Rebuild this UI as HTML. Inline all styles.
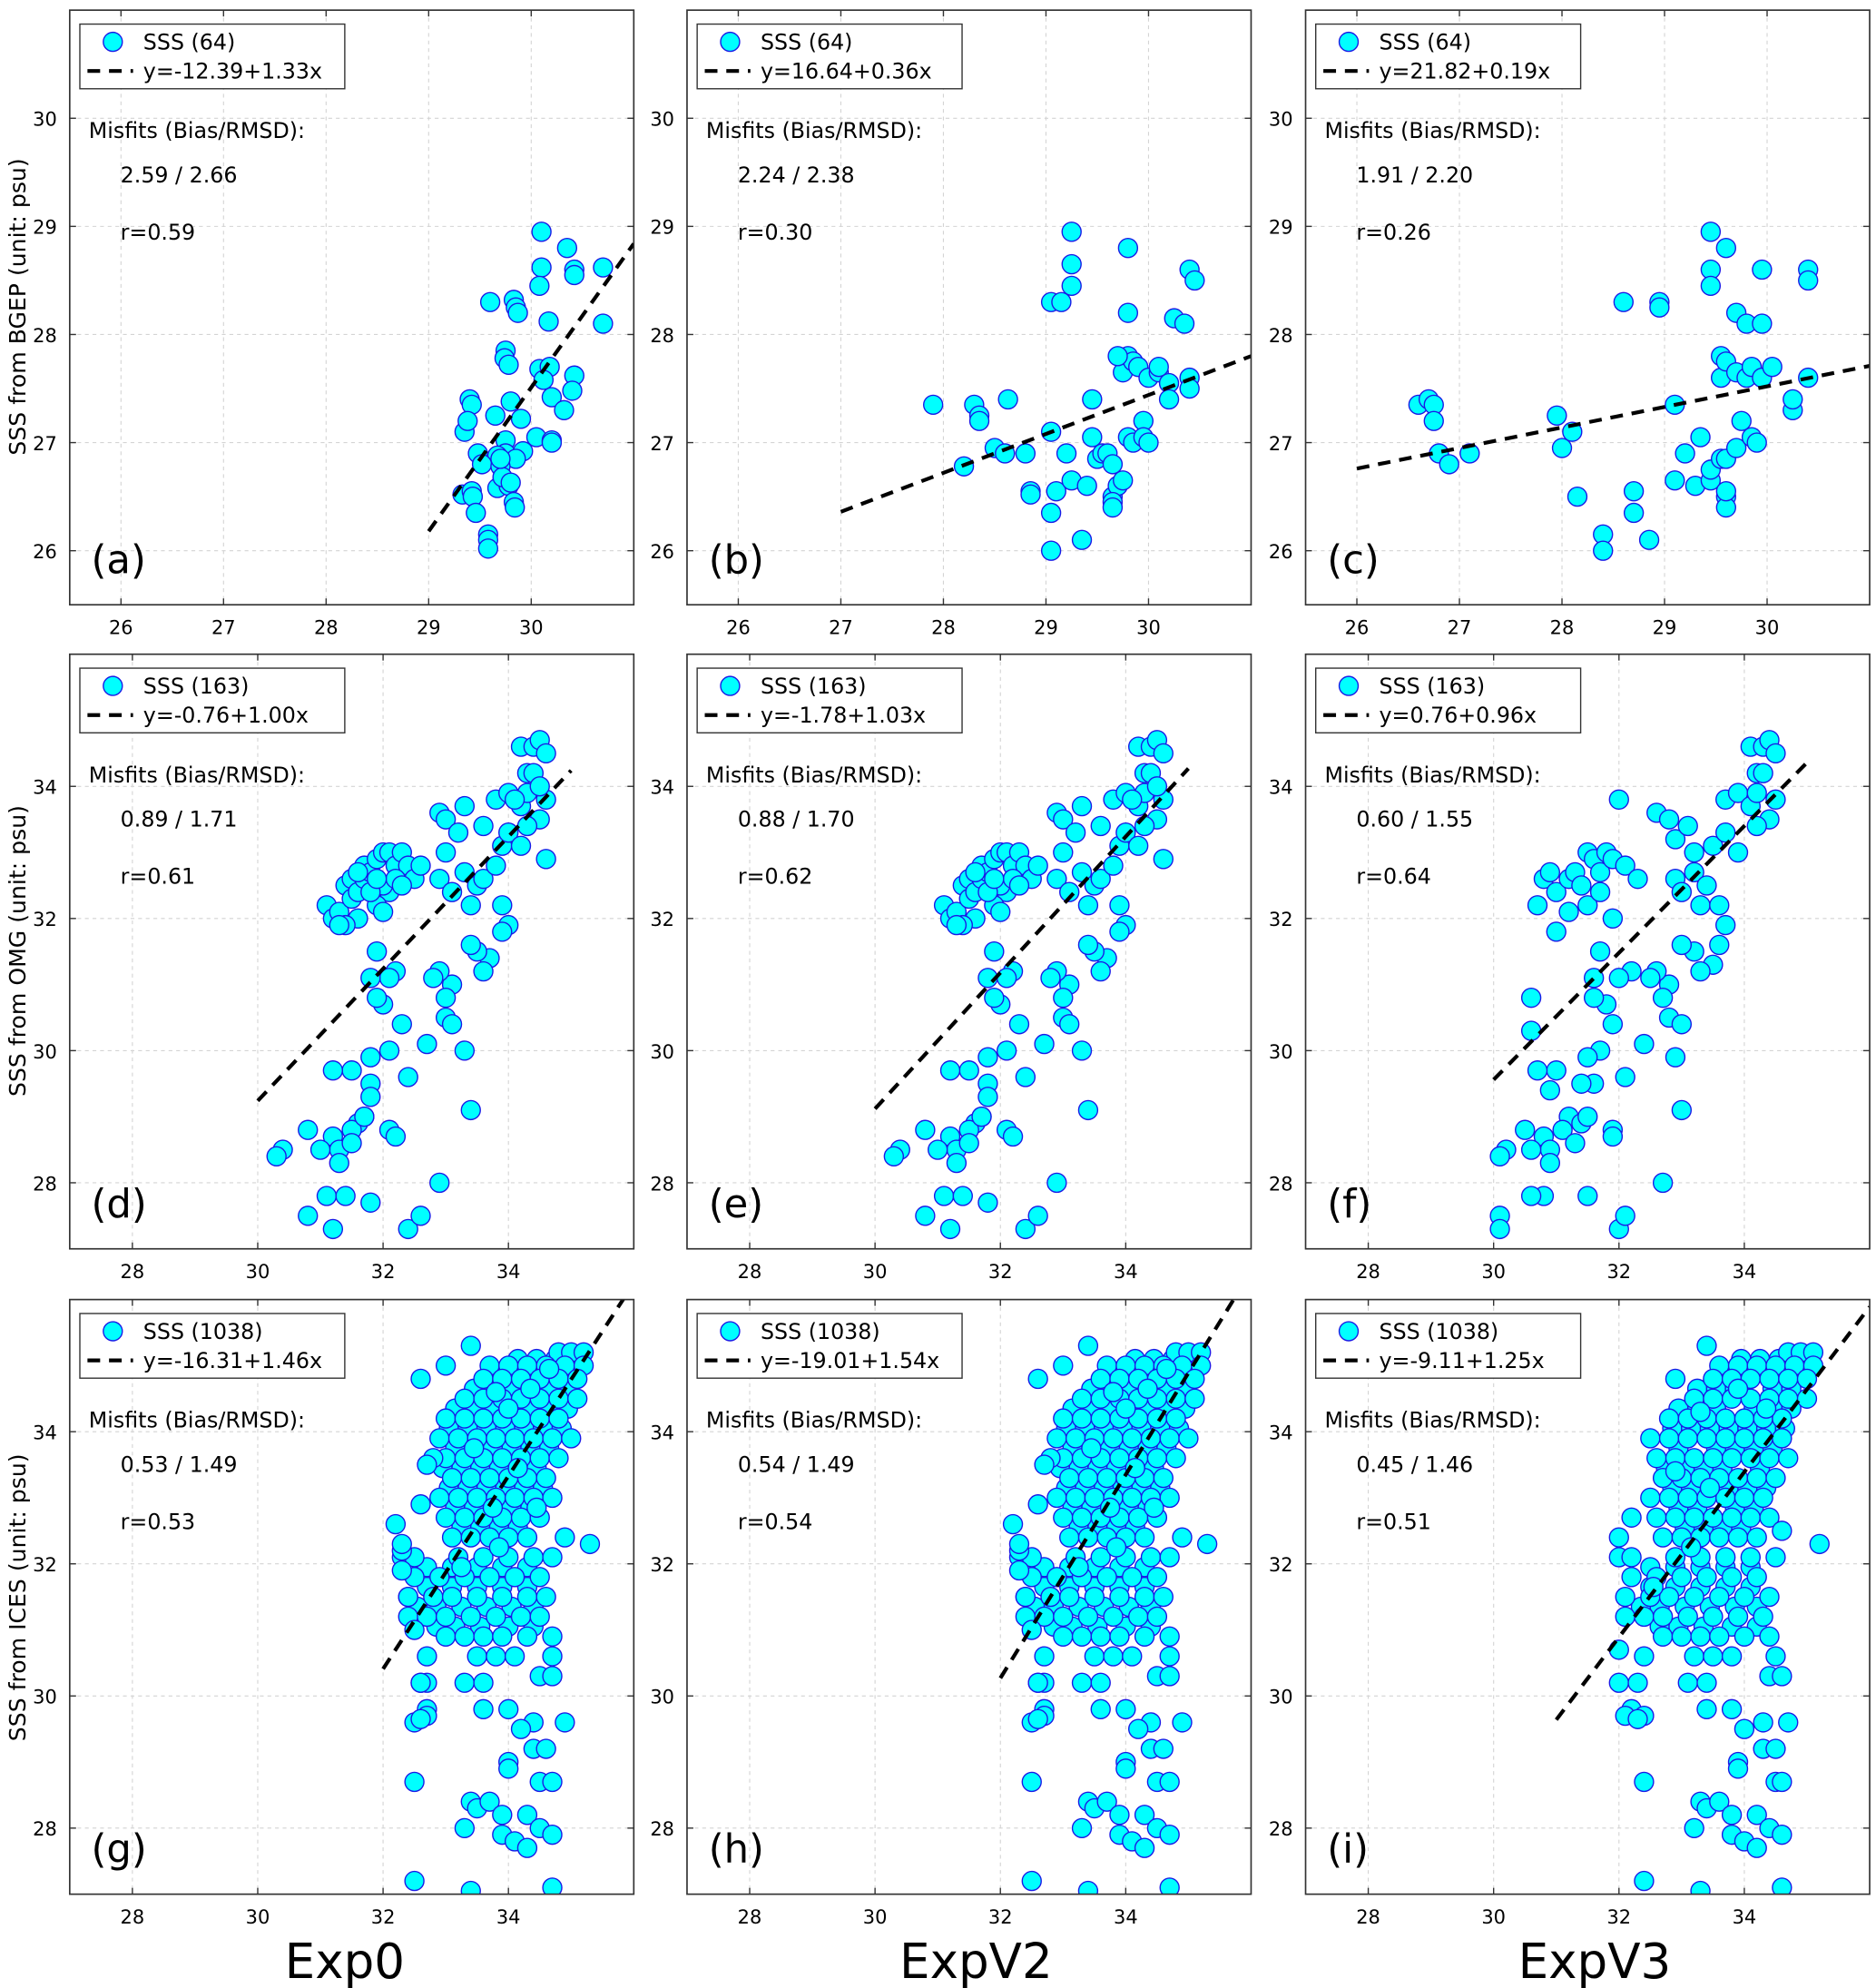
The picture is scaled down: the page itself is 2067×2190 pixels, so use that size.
<!DOCTYPE html>
<html><head><meta charset="utf-8"><style>
html,body{margin:0;padding:0;background:#fff;}
svg{display:block;font-family:"DejaVu Sans","Liberation Sans",sans-serif;}
</style></head><body>
<svg id="fig" width="2067" height="2190" viewBox="0 0 1480 1568" preserveAspectRatio="none" xmlns="http://www.w3.org/2000/svg">
<rect x="0" y="0" width="1480" height="1568" fill="#fff"/>
<text x="20" y="242" transform="rotate(-90 20 242)" text-anchor="middle" font-size="18">SSS from BGEP (unit: psu)</text>
<text x="20" y="750" transform="rotate(-90 20 750)" text-anchor="middle" font-size="18">SSS from OMG (unit: psu)</text>
<text x="20" y="1260" transform="rotate(-90 20 1260)" text-anchor="middle" font-size="18">SSS from ICES (unit: psu)</text>
<text x="272" y="1560" text-anchor="middle" font-size="38">Exp0</text>
<text x="770" y="1560" text-anchor="middle" font-size="38">ExpV2</text>
<text x="1258" y="1560" text-anchor="middle" font-size="38">ExpV3</text>
</svg>
<script>
// ---- data ----
const row1Range = [25.5, 31];
const row23Range = [27, 36];
const row1Ticks = [26, 27, 28, 29, 30];
const row23Ticks = [28, 30, 32, 34];

const ptsA = [[30.1,28.95],[30.35,28.8],[30.42,28.6],[30.42,28.55],[30.1,28.62],[30.7,28.62],[29.6,28.3],[29.83,28.32],[29.85,28.25],[29.87,28.2],[30.08,28.45],[30.17,28.12],[30.7,28.1],[29.75,27.85],[29.74,27.78],[29.78,27.72],[30.08,27.68],[30.18,27.7],[30.42,27.62],[30.12,27.58],[29.8,27.38],[30.2,27.42],[30.4,27.48],[30.32,27.3],[29.4,27.4],[29.42,27.35],[29.65,27.25],[29.35,27.1],[29.38,27.2],[29.9,27.22],[30.05,27.05],[30.2,27.02],[30.2,27.0],[29.75,27.02],[29.75,26.9],[29.48,26.9],[29.92,26.92],[29.85,26.85],[29.67,26.88],[29.52,26.8],[29.7,26.78],[29.72,26.65],[29.67,26.58],[29.78,26.6],[29.72,26.68],[29.33,26.52],[29.42,26.55],[29.43,26.5],[29.83,26.45],[29.84,26.4],[29.46,26.35],[29.58,26.15],[29.58,26.1],[29.58,26.02],[29.7,26.85],[29.8,26.63]];
const ptsB = [[27.9,27.35],[28.3,27.35],[28.35,27.25],[28.63,27.4],[28.35,27.2],[28.2,26.78],[28.5,26.95],[28.6,26.9],[28.8,26.9],[28.85,26.55],[28.85,26.52],[29.05,26.35],[29.05,26.0],[29.1,26.55],[29.25,26.65],[29.35,26.1],[29.2,26.9],[29.05,27.1],[29.4,26.6],[29.5,26.85],[29.55,26.9],[29.45,27.05],[29.45,27.4],[29.6,26.9],[29.65,26.8],[29.65,26.5],[29.7,26.6],[29.65,26.45],[29.65,26.4],[29.75,26.65],[29.8,27.05],[29.85,27.0],[29.95,27.2],[29.95,27.05],[30.0,27.0],[29.75,27.65],[29.8,27.8],[29.85,27.75],[29.9,27.7],[30.0,27.6],[30.1,27.65],[30.1,27.7],[30.2,27.55],[30.2,27.4],[30.25,28.15],[30.35,28.1],[30.4,27.6],[30.4,27.5],[30.4,28.6],[30.45,28.5],[29.05,28.3],[29.15,28.3],[29.25,28.45],[29.25,28.65],[29.25,28.95],[29.8,28.8],[29.8,28.2],[29.7,27.8]];
const ptsC = [[26.6,27.35],[26.7,27.4],[26.75,27.35],[26.75,27.2],[26.8,26.9],[26.9,26.8],[27.1,26.9],[27.95,27.25],[28.0,26.95],[28.1,27.1],[28.15,26.5],[28.4,26.15],[28.4,26.0],[28.7,26.55],[28.7,26.35],[28.85,26.1],[28.6,28.3],[28.95,28.3],[28.95,28.25],[29.1,27.35],[29.1,26.65],[29.2,26.9],[29.35,27.05],[29.3,26.6],[29.45,26.65],[29.45,26.75],[29.55,26.85],[29.6,26.85],[29.6,26.5],[29.6,26.4],[29.6,26.55],[29.55,27.6],[29.55,27.8],[29.6,27.75],[29.7,27.65],[29.7,26.95],[29.75,27.2],[29.8,27.6],[29.85,27.05],[29.85,27.7],[29.9,27.0],[29.95,27.6],[30.05,27.7],[30.25,27.3],[30.25,27.4],[30.4,27.6],[30.4,28.6],[30.4,28.5],[29.45,28.95],[29.45,28.6],[29.45,28.45],[29.6,28.8],[29.7,28.2],[29.8,28.1],[29.95,28.6],[29.95,28.1]];
const ptsD = [[31.1,32.2],[31.2,32.0],[31.3,32.1],[31.4,32.5],[31.5,32.6],[31.5,32.3],[31.6,32.4],[31.7,32.6],[31.7,32.8],[31.8,32.7],[31.9,32.9],[32.0,33.0],[32.1,33.0],[32.2,32.8],[32.3,33.0],[32.4,32.8],[32.5,32.6],[32.1,32.4],[31.9,32.2],[31.6,32.0],[31.4,31.9],[32.0,32.5],[32.2,32.6],[31.8,32.4],[31.6,32.7],[32.3,32.5],[32.6,32.8],[31.3,31.9],[32.0,32.1],[31.9,32.6],[32.9,33.6],[33.0,33.5],[33.3,33.7],[33.2,33.3],[33.0,33.0],[32.9,32.6],[33.1,32.4],[33.3,32.7],[33.5,32.5],[33.6,32.6],[33.4,32.2],[33.8,32.8],[33.9,33.1],[34.0,33.3],[33.8,33.8],[34.0,33.9],[34.2,33.7],[34.3,34.2],[34.2,34.6],[34.4,34.6],[34.5,34.7],[34.6,34.5],[34.4,34.2],[34.3,33.9],[34.5,33.5],[34.6,33.8],[34.3,33.4],[34.2,33.1],[33.9,32.2],[34.0,31.9],[33.9,31.8],[33.7,31.4],[33.6,31.2],[33.5,31.5],[33.4,31.6],[33.1,31.0],[33.0,30.8],[32.9,31.2],[32.8,31.1],[33.0,30.5],[33.1,30.4],[33.3,30.0],[33.4,29.1],[32.7,30.1],[32.4,29.6],[34.6,32.9],[34.5,34.0],[34.1,33.8],[33.6,33.4],[32.2,31.2],[32.1,31.1],[32.0,30.7],[31.9,30.8],[31.8,31.1],[31.9,31.5],[32.3,30.4],[32.1,30.0],[31.8,29.9],[31.8,29.5],[31.8,29.3],[31.7,29.0],[31.5,29.7],[31.2,29.7],[31.6,28.9],[31.5,28.8],[31.2,28.7],[31.3,28.5],[31.0,28.5],[30.8,28.8],[30.4,28.5],[30.3,28.4],[31.3,28.3],[31.5,28.6],[32.1,28.8],[31.1,27.8],[30.8,27.5],[31.2,27.3],[31.4,27.8],[31.8,27.7],[32.4,27.3],[32.6,27.5],[32.9,28.0],[32.2,28.7],[31.7,29.0]];
const ptsF = [[30.7,32.2],[30.8,32.6],[30.9,32.7],[31.0,32.4],[31.2,32.6],[31.3,32.7],[31.4,32.5],[31.5,33.0],[31.6,32.9],[31.7,32.7],[31.8,33.0],[31.9,32.9],[32.1,32.8],[31.0,31.8],[31.2,32.1],[31.5,32.2],[31.7,32.4],[31.9,32.0],[32.0,33.8],[32.3,32.6],[32.6,33.6],[32.8,33.5],[32.9,33.2],[33.1,33.4],[33.2,33.0],[32.9,32.6],[33.0,32.4],[33.2,32.7],[33.4,32.5],[33.3,32.2],[33.5,33.1],[33.7,33.3],[33.7,33.8],[33.9,33.9],[34.1,33.7],[34.2,34.2],[34.1,34.6],[34.3,34.6],[34.4,34.7],[34.5,34.5],[34.3,34.2],[34.2,33.9],[34.4,33.5],[34.5,33.8],[34.2,33.4],[33.9,33.0],[33.6,32.2],[33.7,31.9],[33.6,31.6],[33.5,31.3],[33.3,31.2],[33.2,31.5],[33.0,31.6],[32.8,31.0],[32.7,30.8],[32.6,31.2],[32.5,31.1],[32.8,30.5],[33.0,30.4],[32.9,29.9],[33.0,29.1],[32.4,30.1],[32.1,29.6],[32.2,31.2],[32.0,31.1],[31.8,30.7],[31.6,30.8],[31.6,31.1],[31.7,31.5],[31.9,30.4],[31.7,30.0],[31.5,29.9],[31.6,29.5],[31.4,29.5],[31.2,29.0],[31.0,29.7],[30.7,29.7],[31.4,28.9],[31.1,28.8],[30.8,28.7],[30.9,28.5],[30.6,28.5],[30.5,28.8],[30.2,28.5],[30.1,28.4],[30.9,28.3],[31.3,28.6],[31.9,28.8],[30.8,27.8],[30.6,27.8],[30.1,27.5],[30.1,27.3],[31.5,27.8],[32.0,27.3],[32.1,27.5],[32.7,28.0],[31.9,28.7],[31.5,29.0],[30.6,30.8],[30.6,30.3],[30.9,29.4]];
const ptsG = [[34.8,35.2],[35.0,35.2],[35.2,35.2],[33.7,35.0],[34.0,35.0],[34.3,35.0],[34.6,35.0],[34.9,35.0],[35.2,35.0],[33.6,34.8],[33.9,34.8],[34.2,34.8],[34.5,34.8],[34.8,34.8],[35.1,34.8],[33.3,34.5],[33.6,34.5],[33.9,34.5],[34.2,34.5],[34.5,34.5],[34.8,34.5],[35.1,34.5],[33.0,34.2],[33.3,34.2],[33.6,34.2],[33.9,34.2],[34.2,34.2],[34.5,34.2],[34.8,34.2],[32.9,33.9],[33.2,33.9],[33.5,33.9],[33.8,33.9],[34.1,33.9],[34.4,33.9],[34.7,33.9],[35.0,33.9],[33.0,33.6],[33.3,33.6],[33.6,33.6],[33.9,33.6],[34.2,33.6],[34.5,33.6],[34.8,33.6],[33.1,33.3],[33.4,33.3],[33.7,33.3],[34.0,33.3],[34.3,33.3],[34.6,33.3],[32.9,33.0],[33.2,33.0],[33.5,33.0],[33.8,33.0],[34.1,33.0],[34.4,33.0],[34.7,33.0],[33.0,32.7],[33.3,32.7],[33.6,32.7],[33.9,32.7],[34.2,32.7],[34.5,32.7],[33.1,32.4],[33.4,32.4],[33.7,32.4],[34.0,32.4],[34.3,32.4],[34.9,32.4],[35.3,32.3],[32.6,34.8],[33.4,35.3],[33.0,35.0],[32.8,33.6],[32.7,33.5],[32.3,32.1],[32.5,32.1],[33.2,32.1],[33.6,32.1],[34.0,32.1],[34.4,32.1],[34.7,32.1],[32.5,31.8],[32.9,31.8],[33.3,31.8],[33.7,31.8],[34.1,31.8],[34.5,31.8],[32.4,31.5],[32.8,31.5],[33.1,31.5],[33.5,31.5],[33.9,31.5],[34.3,31.5],[34.6,31.5],[32.4,31.2],[32.7,31.2],[33.0,31.2],[33.4,31.2],[33.8,31.2],[34.2,31.2],[34.5,31.2],[33.0,30.9],[33.3,30.9],[33.6,30.9],[33.9,30.9],[34.3,30.9],[34.7,30.9],[32.7,30.6],[33.5,30.6],[33.8,30.6],[34.1,30.6],[34.7,30.6],[32.6,30.2],[32.7,30.2],[33.3,30.2],[33.6,30.2],[34.5,30.3],[34.7,30.3],[32.7,29.8],[33.6,29.8],[34.0,29.8],[32.5,29.6],[34.4,29.6],[34.9,29.6],[32.7,29.7],[32.6,29.65],[34.2,29.5],[34.4,29.2],[34.6,29.2],[34.0,29.0],[34.0,28.9],[34.5,28.7],[34.7,28.7],[32.5,28.7],[33.4,28.4],[33.5,28.3],[33.7,28.4],[33.9,28.2],[34.3,28.2],[34.5,28.0],[33.3,28.0],[33.9,27.9],[34.1,27.8],[34.3,27.7],[34.7,27.9],[32.5,27.2],[33.4,27.05],[34.7,27.1],[32.3,32.2],[32.3,31.9],[32.4,31.5],[32.5,31.0],[32.6,30.2],[32.2,32.6],[32.3,32.3],[32.6,32.9],[33.8,34.6],[34.0,34.35],[34.35,34.65],[34.65,34.95],[33.45,33.75],[34.15,33.45],[33.75,32.85],[33.25,31.95],[33.85,32.25],[34.45,32.85]];
const ptsGExtra = [[34.15,35.1],[34.45,35.1],[34.75,35.1],[35.05,35.1],[33.45,34.65],[33.75,34.65],[34.05,34.65],[34.65,34.65],[34.95,34.65],[33.15,34.35],[33.45,34.35],[33.75,34.35],[34.35,34.35],[34.65,34.35],[34.95,34.35],[33.05,34.05],[33.35,34.05],[33.65,34.05],[33.95,34.05],[34.25,34.05],[34.55,34.05],[34.85,34.05],[33.15,33.75],[33.75,33.75],[34.05,33.75],[34.35,33.75],[34.65,33.75],[32.95,33.45],[33.25,33.45],[33.55,33.45],[33.85,33.45],[34.45,33.45],[33.05,33.15],[33.35,33.15],[33.65,33.15],[33.95,33.15],[34.25,33.15],[34.55,33.15],[33.15,32.85],[33.45,32.85],[34.05,32.85],[34.35,32.85],[33.25,32.55],[33.55,32.55],[33.85,32.55],[34.15,32.55],[32.7,31.95],[33.1,31.95],[33.5,31.95],[33.9,31.95],[34.3,31.95],[32.7,31.65],[33.1,31.65],[33.5,31.65],[33.9,31.65],[34.3,31.65],[32.55,31.35],[32.85,31.35],[33.25,31.35],[33.65,31.35],[34.05,31.35],[34.4,31.35],[32.85,31.05],[33.15,31.05],[33.55,31.05],[34.0,31.05],[34.4,31.05]];
const ptsI = [[34.7,35.2],[34.9,35.2],[35.1,35.2],[33.4,35.3],[33.6,35.0],[33.9,35.0],[34.2,35.0],[34.5,35.0],[34.8,35.0],[35.1,35.0],[32.9,34.8],[33.5,34.8],[33.8,34.8],[34.1,34.8],[34.4,34.8],[34.7,34.8],[35.0,34.8],[33.2,34.5],[33.5,34.5],[33.8,34.5],[34.1,34.5],[34.4,34.5],[34.7,34.5],[35.0,34.5],[32.8,34.2],[33.1,34.2],[33.4,34.2],[33.7,34.2],[34.0,34.2],[34.3,34.2],[34.6,34.2],[32.5,33.9],[32.8,33.9],[33.1,33.9],[33.4,33.9],[33.7,33.9],[34.0,33.9],[34.3,33.9],[34.6,33.9],[32.6,33.6],[32.9,33.6],[33.2,33.6],[33.5,33.6],[33.8,33.6],[34.1,33.6],[34.4,33.6],[34.7,33.6],[32.7,33.3],[33.0,33.3],[33.3,33.3],[33.6,33.3],[33.9,33.3],[34.2,33.3],[34.5,33.3],[32.5,33.0],[32.8,33.0],[33.1,33.0],[33.4,33.0],[33.7,33.0],[34.0,33.0],[34.3,33.0],[32.6,32.7],[32.9,32.7],[33.2,32.7],[33.5,32.7],[33.8,32.7],[34.1,32.7],[34.4,32.7],[32.7,32.4],[33.0,32.4],[33.3,32.4],[33.6,32.4],[33.9,32.4],[34.2,32.4],[34.6,32.5],[35.2,32.3],[32.0,32.1],[32.2,32.1],[32.9,32.1],[33.3,32.1],[33.7,32.1],[34.1,32.1],[34.5,32.1],[32.2,31.8],[32.6,31.8],[33.0,31.8],[33.4,31.8],[33.8,31.8],[34.2,31.8],[32.1,31.5],[32.5,31.5],[32.8,31.5],[33.2,31.5],[33.6,31.5],[34.0,31.5],[34.4,31.5],[32.1,31.2],[32.4,31.2],[32.7,31.2],[33.1,31.2],[33.5,31.2],[33.9,31.2],[34.3,31.2],[32.0,30.7],[32.7,30.9],[33.0,30.9],[33.3,30.9],[33.6,30.9],[34.0,30.9],[34.4,30.9],[32.4,30.6],[33.2,30.6],[33.5,30.6],[33.8,30.6],[34.5,30.6],[32.0,30.2],[32.3,30.2],[33.1,30.2],[33.4,30.2],[34.4,30.3],[34.6,30.3],[32.2,29.8],[33.4,29.8],[33.8,29.8],[32.1,29.7],[34.3,29.6],[34.7,29.6],[32.4,29.7],[32.3,29.65],[34.0,29.5],[34.3,29.2],[34.5,29.2],[33.9,29.0],[33.9,28.9],[34.5,28.7],[34.6,28.7],[32.4,28.7],[33.3,28.4],[33.4,28.3],[33.6,28.4],[33.8,28.2],[34.2,28.2],[34.4,28.0],[33.2,28.0],[33.8,27.9],[34.0,27.8],[34.2,27.7],[34.6,27.9],[32.4,27.2],[33.3,27.05],[34.6,27.1],[32.0,32.4],[32.2,32.7],[32.9,33.4],[33.3,34.3],[33.9,34.65],[34.35,34.35],[33.45,33.15],[33.15,32.25],[32.55,31.65]];
const ptsIExtra = [[33.95,35.1],[34.25,35.1],[34.55,35.1],[34.85,35.1],[33.25,34.65],[33.55,34.65],[33.85,34.65],[34.45,34.65],[34.75,34.65],[32.95,34.35],[33.25,34.35],[33.55,34.35],[34.15,34.35],[34.45,34.35],[34.75,34.35],[32.85,34.05],[33.15,34.05],[33.45,34.05],[33.75,34.05],[34.05,34.05],[34.35,34.05],[34.65,34.05],[32.95,33.75],[33.55,33.75],[33.85,33.75],[34.15,33.75],[34.45,33.75],[32.75,33.45],[33.05,33.45],[33.35,33.45],[33.65,33.45],[34.25,33.45],[32.85,33.15],[33.15,33.15],[33.45,33.15],[33.75,33.15],[34.05,33.15],[34.35,33.15],[32.95,32.85],[33.25,32.85],[33.85,32.85],[34.15,32.85],[33.05,32.55],[33.35,32.55],[33.65,32.55],[33.95,32.55],[32.5,31.95],[32.9,31.95],[33.3,31.95],[33.7,31.95],[34.1,31.95],[32.5,31.65],[32.9,31.65],[33.3,31.65],[33.7,31.65],[34.1,31.65],[32.35,31.35],[32.65,31.35],[33.05,31.35],[33.45,31.35],[33.85,31.35],[34.2,31.35],[32.65,31.05],[32.95,31.05],[33.35,31.05],[33.8,31.05],[34.2,31.05]];

// fit lines: intercepts, slopes, x-range
const fitIntercepts = [-12.39, 16.64, 21.82, -0.76, -1.78, 0.76, -16.31, -19.01, -9.11];
const fitSlopes = [1.33, 0.36, 0.19, 1.00, 1.03, 0.96, 1.46, 1.54, 1.25];
const fitStart = [29, 27, 26, 30, 30, 30, 32, 32, 31];
const fitEnd = [31, 31, 31, 35, 35, 35, 36, 36, 36];
const counts = ["64","64","64","163","163","163","1038","1038","1038"];
const biasRmsd = ["2.59 / 2.66","2.24 / 2.38","1.91 / 2.20","0.89 / 1.71","0.88 / 1.70","0.60 / 1.55","0.53 / 1.49","0.54 / 1.49","0.45 / 1.46"];
const rValues = ["0.59","0.30","0.26","0.61","0.62","0.64","0.53","0.54","0.51"];
const panelLabels = ["(a)","(b)","(c)","(d)","(e)","(f)","(g)","(h)","(i)"];
const panelPoints = [ptsA, ptsB, ptsC, ptsD, ptsD, ptsF, ptsGExtra.concat(ptsG), ptsGExtra.concat(ptsG), ptsIExtra.concat(ptsI)];

// ---- drawing ----
const NS = "http://www.w3.org/2000/svg";
const svg = document.getElementById("fig");
const colX = [55, 542, 1030], rowY = [8, 516, 1025], PW = 445, PH = 469;
function mk(tag, attrs, parent) {
  const e = document.createElementNS(NS, tag);
  for (const k in attrs) e.setAttribute(k, attrs[k]);
  (parent || svg).appendChild(e);
  return e;
}
for (let p = 0; p < 9; p++) {
  const r = Math.floor(p / 3), c = p % 3;
  const x0 = colX[c], y0 = rowY[r];
  const rng = r === 0 ? row1Range : row23Range;
  const ticks = r === 0 ? row1Ticks : row23Ticks;
  const sx = v => x0 + (v - rng[0]) / (rng[1] - rng[0]) * PW;
  const sy = v => y0 + PH - (v - rng[0]) / (rng[1] - rng[0]) * PH;
  const g = mk("g", {});
  
  
  const clipId = "clip" + p;
  const cp = mk("clipPath", {id: clipId}, g);
  mk("rect", {x: x0, y: y0, width: PW, height: PH}, cp);
  ticks.forEach(t => {
    const gx = mk("line", {x1: sx(t), x2: sx(t), y1: y0, y2: y0 + PH, stroke: "#d4d4d4", "stroke-width": 0.8, "stroke-dasharray": "3,3"}, g);
    
    
    const gy = mk("line", {x1: x0, x2: x0 + PW, y1: sy(t), y2: sy(t), stroke: "#d4d4d4", "stroke-width": 0.8, "stroke-dasharray": "3,3"}, g);
    
    
    mk("line", {x1: sx(t), x2: sx(t), y1: y0, y2: y0 + 5, stroke: "#333", "stroke-width": 1}, g);
    mk("line", {x1: sx(t), x2: sx(t), y1: y0 + PH, y2: y0 + PH - 5, stroke: "#333", "stroke-width": 1}, g);
    mk("line", {x1: x0, x2: x0 + 5, y1: sy(t), y2: sy(t), stroke: "#333", "stroke-width": 1}, g);
    mk("line", {x1: x0 + PW, x2: x0 + PW - 5, y1: sy(t), y2: sy(t), stroke: "#333", "stroke-width": 1}, g);
    const tx = mk("text", {x: sx(t), y: y0 + PH + 23, "text-anchor": "middle", "font-size": 15}, g);
    tx.textContent = t;
    
    
    const ty = mk("text", {x: x0 - 10, y: sy(t) + 6, "text-anchor": "end", "font-size": 15}, g);
    ty.textContent = t;
    
    
  });
  const pg = mk("g", {"clip-path": "url(#" + clipId + ")"}, g);
  panelPoints[p].forEach(pt => {
    const ci = mk("circle", {cx: sx(pt[0]), cy: sy(pt[1]), r: 7.5, fill: "#00ffff", stroke: "#1a1ae6", "stroke-width": 1}, pg);
    
    
  });
  const xa = fitStart[p], xb = fitEnd[p];
  const fl = mk("line", {x1: sx(xa), y1: sy(fitIntercepts[p] + fitSlopes[p] * xa), x2: sx(xb), y2: sy(fitIntercepts[p] + fitSlopes[p] * xb), stroke: "#000", "stroke-width": 3, "stroke-dasharray": "10,7", "clip-path": "url(#" + clipId + ")"}, g);
  
  
  const fr = mk("rect", {x: x0, y: y0, width: PW, height: PH, fill: "none", stroke: "#333", "stroke-width": 1.2}, g);
  
  
  const eq = "y=" + fitIntercepts[p].toFixed(2) + "+" + fitSlopes[p].toFixed(2) + "x";
  const lg = mk("g", {}, g);
  
  
  mk("rect", {x: x0 + 8, y: y0 + 11, width: 209, height: 51, fill: "#fff", stroke: "#333", "stroke-width": 1}, lg);
  mk("circle", {cx: x0 + 34, cy: y0 + 25, r: 7.5, fill: "#00ffff", stroke: "#1a1ae6", "stroke-width": 1}, lg);
  const t1 = mk("text", {x: x0 + 58, y: y0 + 31, "font-size": 17}, lg);
  t1.textContent = "SSS (" + counts[p] + ")";
  
  
  mk("line", {x1: x0 + 14, x2: x0 + 50, y1: y0 + 48, y2: y0 + 48, stroke: "#000", "stroke-width": 3, "stroke-dasharray": "10,7"}, lg);
  const t2 = mk("text", {x: x0 + 58, y: y0 + 54, "font-size": 17}, lg);
  t2.textContent = eq;
  
  
  const m1 = mk("text", {x: x0 + 15, y: y0 + 101, "font-size": 17}, g);
  m1.textContent = "Misfits (Bias/RMSD):";
  
  
  const m2 = mk("text", {x: x0 + 40, y: y0 + 136, "font-size": 17}, g);
  m2.textContent = biasRmsd[p];
  
  
  const m3 = mk("text", {x: x0 + 40, y: y0 + 181, "font-size": 17}, g);
  m3.textContent = "r=" + rValues[p];
  
  
  const pl = mk("text", {x: x0 + 17, y: y0 + 444, "font-size": 31}, g);
  pl.textContent = panelLabels[p];
  
  
}
</script>
</body></html>
